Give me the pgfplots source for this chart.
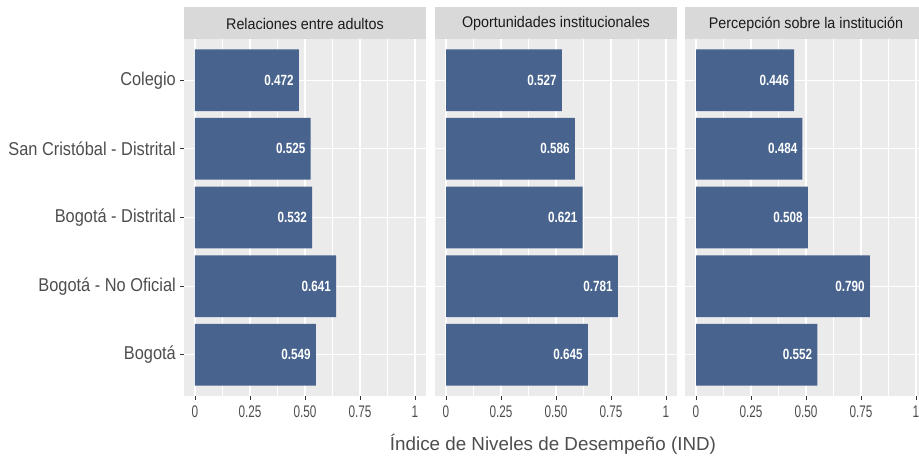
\documentclass[border=0pt]{standalone}
\usepackage{fontspec}
\setmainfont{Liberation Sans}
\newfontfamily\yfont[FakeStretch=0.88]{Liberation Sans}
\newfontfamily\xfont[FakeStretch=0.70]{Liberation Sans}
\newfontfamily\stripfont[FakeStretch=0.93]{Liberation Sans}
\newfontfamily\barfont[FakeStretch=0.79]{Liberation Sans}
\usepackage{pgfplots}
\pgfplotsset{compat=1.18}

\definecolor{barblue}{HTML}{48638E}
\definecolor{panelbg}{HTML}{EBEBEB}
\definecolor{stripbg}{HTML}{D9D9D9}
\definecolor{gray30}{HTML}{4D4D4D}
\definecolor{gray20}{HTML}{333333}
\definecolor{gray10}{HTML}{1A1A1A}

\pgfplotsset{
  panel/.style={
    xbar, bar width=0.9,
    width=242pt, height=357pt, scale only axis,
    anchor=south west,
    xmin=-0.05, xmax=1.05, ymin=0.4, ymax=5.6,
    axis background/.style={fill=panelbg},
    axis line style={draw=none},
    xtick={0,0.25,0.5,0.75,1},
    xticklabels={0,0.25,0.50,0.75,1},
    minor xtick={0.125,0.375,0.625,0.875},
    ytick={1,2,3,4,5},
    xmajorgrids, ymajorgrids, xminorgrids,
    major grid style={white, line width=1.1pt},
    minor grid style={white, line width=0.55pt},
    minor tick length=0pt,
    tick align=outside, major tick length=4pt,
    xtick pos=bottom, ytick pos=left,
    tick style={gray20, line width=0.9pt},
    xticklabel style={inner sep=0pt, yshift=-6pt, text=gray30, font=\xfont\fontsize{16.8}{19}\selectfont},
    yticklabel style={inner sep=0pt, xshift=-4pt, text=gray30, font=\yfont\fontsize{18.6}{21}\selectfont},
    point meta=x,
    nodes near coords={\pgfmathprintnumber[fixed,fixed zerofill,precision=3,assume math mode=true]{\pgfplotspointmeta}},
    nodes near coords style={anchor=east, text=white, inner sep=0pt, xshift=-5pt, font=\barfont\fontsize{14.8}{17}\selectfont\bfseries},
  },
  noy/.style={yticklabels={}, ytick style={draw=none}},
}

\begin{document}
\begin{tikzpicture}

% panel 1
\begin{axis}[panel, at={(184pt,70pt)},
  yticklabels={Bogotá, Bogotá - No Oficial, Bogotá - Distrital, San Cristóbal - Distrital, Colegio}]
\addplot[fill=barblue, draw=none] coordinates {(0.549,1) (0.641,2) (0.532,3) (0.525,4) (0.472,5)};
\end{axis}

% panel 2
\begin{axis}[panel, noy, at={(435pt,70pt)}]
\addplot[fill=barblue, draw=none] coordinates {(0.645,1) (0.781,2) (0.621,3) (0.586,4) (0.527,5)};
\end{axis}

% panel 3
\begin{axis}[panel, noy, at={(685pt,70pt)}]
\addplot[fill=barblue, draw=none] coordinates {(0.552,1) (0.790,2) (0.508,3) (0.484,4) (0.446,5)};
\end{axis}

% strips
\fill[stripbg] (184pt,427pt) rectangle (426pt,459pt);
\fill[stripbg] (435pt,427pt) rectangle (677pt,459pt);
\fill[stripbg] (685pt,427pt) rectangle (927pt,459pt);
\node[text=gray10, font=\stripfont\fontsize{15.4}{18}\selectfont] at (305pt,442pt) {Relaciones entre adultos};
\node[text=gray10, font=\stripfont\fontsize{15.4}{18}\selectfont] at (556pt,442pt) {Oportunidades institucionales};
\node[text=gray10, font=\stripfont\fontsize{15.4}{18}\selectfont] at (806pt,442pt) {Percepción sobre la institución};

% x title
\node[text=gray30, font=\fontsize{18.8}{22}\selectfont] at (553pt,22pt) {Índice de Niveles de Desempeño (IND)};

\pgfresetboundingbox
\path (0,0) rectangle (919pt,466pt);
\end{tikzpicture}
\end{document}
